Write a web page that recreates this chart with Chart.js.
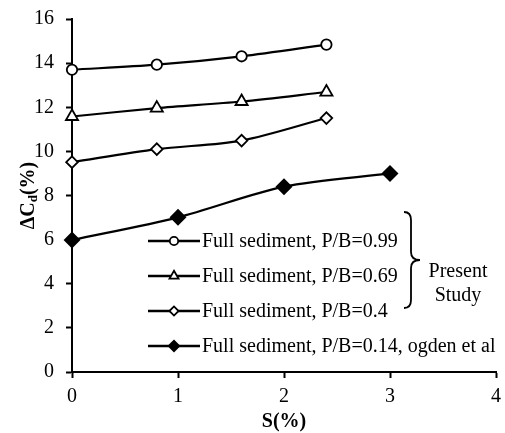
<!DOCTYPE html>
<html><head><meta charset="utf-8">
<script src="https://cdn.jsdelivr.net/npm/chart.js@4/dist/chart.umd.min.js"></script>
<style>html,body{margin:0;padding:0;background:#fff}</style>
</head><body>
<canvas id="c" width="505" height="433"></canvas>
<script>
// ---- data ----
const seriesNames = [
  'Full sediment, P/B=0.99',
  'Full sediment, P/B=0.69',
  'Full sediment, P/B=0.4',
  'Full sediment, P/B=0.14, ogden et al'
];
const sPB099 = [0, 0.8, 1.6, 2.4];
const cdPB099 = [13.7, 13.93, 14.31, 14.84];
const sPB069 = [0, 0.8, 1.6, 2.4];
const cdPB069 = [11.58, 11.96, 12.26, 12.69];
const sPB04 = [0, 0.8, 1.6, 2.4];
const cdPB04 = [9.51, 10.1, 10.49, 11.51];
const sPB014 = [0, 1, 2, 3];
const cdPB014 = [5.98, 7.01, 8.4, 9.0];
const xTicks = [0, 1, 2, 3, 4];
const yTicks = [0, 2, 4, 6, 8, 10, 12, 14, 16];
const xTitle = 'S(%)';
const bracketLabel = ['Present', 'Study'];

const FONT = "'Liberation Serif','Times New Roman',serif";
const pts = (xs, ys) => xs.map((x, i) => ({x, y: ys[i]}));

const styles = [
  {pointStyle: 'circle', pointRadius: 5.2, fill: '#fff', legendR: 4.2},
  {pointStyle: 'triangle', pointRadius: 7, fill: '#fff', legendR: 5.2},
  {pointStyle: 'rectRot', pointRadius: 5.8, fill: '#fff', legendR: 4.6},
  {pointStyle: 'rectRot', pointRadius: 7.2, fill: '#000', legendR: 5.2}
];
const xs = [sPB099, sPB069, sPB04, sPB014];
const ys = [cdPB099, cdPB069, cdPB04, cdPB014];

const datasets = seriesNames.map((name, i) => ({
  label: name,
  data: pts(xs[i], ys[i]),
  borderColor: '#000',
  borderWidth: 2.2,
  tension: 0.3,
  pointStyle: styles[i].pointStyle,
  pointRadius: styles[i].pointRadius,
  pointHoverRadius: styles[i].pointRadius,
  pointBackgroundColor: styles[i].fill,
  pointBorderColor: '#000',
  pointBorderWidth: 1.8,
  clip: false
}));

const extras = {
  id: 'extras',
  afterDraw(chart) {
    const ctx = chart.ctx;
    const ca = chart.chartArea;
    ctx.save();
    // legend
    const rows = [241, 276, 311, 346];
    ctx.font = '20px ' + FONT;
    ctx.textBaseline = 'middle';
    ctx.textAlign = 'left';
    datasets.forEach((d, i) => {
      const y = rows[i];
      ctx.strokeStyle = '#000';
      ctx.lineWidth = 2.5;
      ctx.beginPath(); ctx.moveTo(148, y); ctx.lineTo(200, y); ctx.stroke();
      ctx.fillStyle = styles[i].fill;
      ctx.lineWidth = 1.8;
      Chart.helpers.drawPoint(ctx, {pointStyle: styles[i].pointStyle, radius: styles[i].legendR, rotation: 0, borderWidth: 1.8}, 174, y);
      ctx.fillStyle = '#000';
      ctx.fillText(d.label, 202, y + 1);
    });
    // brace
    ctx.strokeStyle = '#000';
    ctx.lineWidth = 1.8;
    ctx.beginPath();
    ctx.moveTo(404, 212);
    ctx.quadraticCurveTo(411, 212, 411, 220);
    ctx.lineTo(411, 252);
    ctx.quadraticCurveTo(411, 260, 420, 260);
    ctx.quadraticCurveTo(411, 260, 411, 268);
    ctx.lineTo(411, 300);
    ctx.quadraticCurveTo(411, 308, 404, 308);
    ctx.stroke();
    ctx.textAlign = 'center';
    ctx.fillText(bracketLabel[0], 458, 272);
    ctx.fillText(bracketLabel[1], 458, 296);
    // y title: ΔCd(%) with subscript d
    ctx.translate(27, (ca.top + ca.bottom) / 2);
    ctx.rotate(-Math.PI / 2);
    const big = 'bold 20px ' + FONT, small = 'bold 13px ' + FONT;
    ctx.font = big; const w1 = ctx.measureText('\u0394C').width;
    ctx.font = small; const w2 = ctx.measureText('d').width;
    ctx.font = big; const w3 = ctx.measureText('(%)').width;
    let x = -(w1 + w2 + w3) / 2;
    ctx.textAlign = 'left';
    ctx.textBaseline = 'alphabetic';
    ctx.font = big; ctx.fillText('\u0394C', x, 7); x += w1;
    ctx.font = small; ctx.fillText('d', x, 10); x += w2;
    ctx.font = big; ctx.fillText('(%)', x, 7);
    ctx.restore();
  }
};

new Chart(document.getElementById('c'), {
  type: 'line',
  data: {datasets},
  options: {
    responsive: false,
    animation: false,
    layout: {padding: {left: 0, top: 19, right: 0, bottom: 0}},
    plugins: {legend: {display: false}, tooltip: {enabled: false}},
    scales: {
      x: {
        type: 'linear', min: 0, max: 4,
        afterBuildTicks: s => { s.ticks = xTicks.map(v => ({value: v})); },
        afterFit: s => { s.height = 61; s.paddingRight = 4; s.paddingLeft = 0; },
        grid: {drawOnChartArea: false, tickLength: 6, tickWidth: 2, tickColor: '#000'},
        border: {display: true, color: '#000', width: 2},
        ticks: {color: '#000', padding: 7, font: {family: FONT, size: 20}, maxRotation: 0},
        title: {display: true, text: xTitle, color: '#000', font: {family: FONT, size: 20, weight: 'bold'}, padding: {top: 0, bottom: -1}}
      },
      y: {
        type: 'linear', min: 0, max: 16,
        afterBuildTicks: s => { s.ticks = yTicks.map(v => ({value: v})); },
        afterFit: s => { s.width = 72; s.paddingTop = 0; s.paddingBottom = 0; },
        grid: {drawOnChartArea: false, tickLength: 6, tickWidth: 2, tickColor: '#000'},
        border: {display: true, color: '#000', width: 2},
        ticks: {color: '#000', padding: 12, font: {family: FONT, size: 20}}
      }
    }
  },
  plugins: [extras]
});
</script>
</body></html>
